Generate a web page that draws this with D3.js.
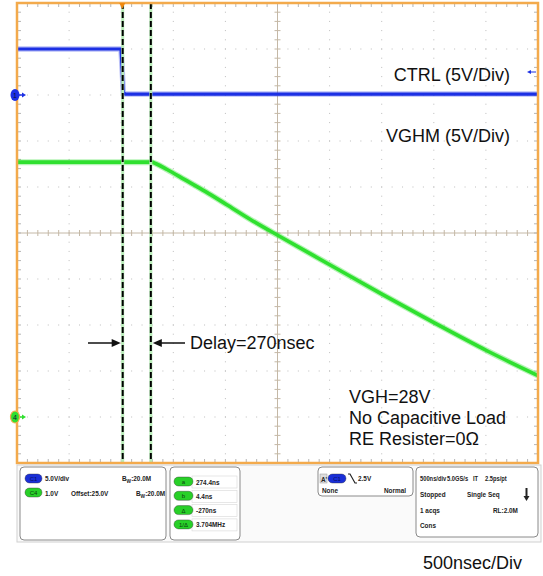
<!DOCTYPE html>
<html><head><meta charset="utf-8">
<script src="https://cdn.jsdelivr.net/npm/d3@7"></script>
<style>
html,body{margin:0;padding:0;background:#fff;}
svg{display:block;}
.lbl{font-family:"Liberation Sans",Arial,sans-serif;font-size:18px;fill:#111;}
.st{font-family:"Liberation Sans",Arial,sans-serif;font-size:8px;font-weight:bold;fill:#222;}
</style></head>
<body>
<svg id="c" width="543" height="576"></svg>
<script>
// ---------- data ----------
// CTRL (channel 1), time in ns relative to trigger, volts
const ctrlTime = [-1010, -12, 0, 10, 30, 3990];
const ctrlVolt = [5.0, 5.0, 2.6, 0.3, 0.1, 0.1];
// VGHM (channel 4)
const vghmTime = [-1010, 280, 330, 430, 600, 800, 1000, 1226, 1500, 2000, 2500, 3000, 3500, 3990];
const vghmVolt = [27.7, 27.7, 27.5, 26.9, 25.8, 24.5, 23.1, 21.5, 19.7, 16.5, 13.3, 10.2, 7.2, 4.5];
// cursors (ns after trigger)
const cursorTimes = [4.4, 274.4];
const triggerTime = 0;
const triggerLevel = 2.5;
// channel settings: volts/div and ground position (div)
const ch1Scale = 5, ch1Pos = 3;
const ch4Scale = 5, ch4Pos = -4;
// annotation texts
const traceLabels = ["CTRL (5V/Div)", "VGHM (5V/Div)"];
const delayLabel = "Delay=270nsec";
const noteLines = ["VGH=28V", "No Capacitive Load", "RE Resister=0\u03A9"];
const timebaseLabel = "500nsec/Div";
const cursorReadouts = ["274.4ns", "4.4ns", "-270ns", "3.704MHz"];
const cursorTags = ["a", "b", "\u0394", "1/\u0394"];

// ---------- scales ----------
const svg = d3.select("#c");
const L = 17, R = 538, T = 3, B = 463;
const x = d3.scaleLinear().domain([-1010, 3990]).range([L, R]);
const y = d3.scaleLinear().domain([-5, 5]).range([B, T]);
const y1 = v => y(v / ch1Scale + ch1Pos);
const y4 = v => y(v / ch4Scale + ch4Pos);
const tMajor = d3.range(0, 11).map(i => -1010 + i * 500);
const tMinor = d3.range(0, 51).map(i => -1010 + i * 100);
const dMajor = d3.range(-5, 6);
const dMinor = d3.range(0, 51).map(i => -5 + i * 0.2);

// ---------- graticule ----------
const g = svg.append("g");
tMajor.slice(1, -1).forEach((t, i) => {
  if (i === 4) return;
  dMinor.forEach(d => g.append("rect").attr("x", x(t) - 0.5).attr("y", y(d) - 0.5).attr("width", 1).attr("height", 1).attr("fill", "#bdbdbd"));
});
dMajor.slice(1, -1).forEach(d => {
  if (d === 0) return;
  tMinor.forEach(t => g.append("rect").attr("x", x(t) - 0.5).attr("y", y(d) - 0.5).attr("width", 1).attr("height", 1).attr("fill", "#bdbdbd"));
});
const cc = "#c4b8a6";
const xc = x(1490);
g.append("line").attr("x1", L).attr("x2", R).attr("y1", y(0)).attr("y2", y(0)).attr("stroke", cc).attr("stroke-width", 1);
g.append("line").attr("x1", xc).attr("x2", xc).attr("y1", T).attr("y2", B).attr("stroke", cc).attr("stroke-width", 1);
tMinor.forEach(t => g.append("line").attr("x1", x(t)).attr("x2", x(t)).attr("y1", y(0) - 3).attr("y2", y(0) + 3).attr("stroke", cc));
dMinor.forEach(d => g.append("line").attr("x1", xc - 3).attr("x2", xc + 3).attr("y1", y(d)).attr("y2", y(d)).attr("stroke", cc));
tMinor.forEach(t => {
  g.append("line").attr("x1", x(t)).attr("x2", x(t)).attr("y1", T).attr("y2", T + 4).attr("stroke", "#b5b5b5");
  g.append("line").attr("x1", x(t)).attr("x2", x(t)).attr("y1", B - 4).attr("y2", B).attr("stroke", "#b5b5b5");
});
dMinor.forEach(d => {
  g.append("line").attr("x1", L).attr("x2", L + 4).attr("y1", y(d)).attr("y2", y(d)).attr("stroke", "#b5b5b5");
  g.append("line").attr("x1", R - 4).attr("x2", R).attr("y1", y(d)).attr("y2", y(d)).attr("stroke", "#b5b5b5");
});

// ---------- traces ----------
const blue = "#1c30e4", green = "#2fe02f";
const ctrl = ctrlTime.map((t, i) => [t, ctrlVolt[i]]);
const vghm = vghmTime.map((t, i) => [t, vghmVolt[i]]);
const line1 = d3.line().x(d => x(d[0])).y(d => y1(d[1]));
const line4 = d3.line().x(d => x(d[0])).y(d => y4(d[1])).curve(d3.curveMonotoneX);
svg.append("path").attr("d", line4(vghm)).attr("fill", "none").attr("stroke", green).attr("stroke-width", 6).attr("stroke-opacity", 0.35);
svg.append("path").attr("d", line4(vghm)).attr("fill", "none").attr("stroke", green).attr("stroke-width", 3.6);
svg.append("path").attr("d", line1(ctrl)).attr("fill", "none").attr("stroke", blue).attr("stroke-width", 5.5).attr("stroke-opacity", 0.3);
svg.append("path").attr("d", line1(ctrl)).attr("fill", "none").attr("stroke", blue).attr("stroke-width", 3.2);

// ---------- cursors ----------
cursorTimes.forEach(t => {
  svg.append("line").attr("x1", x(t)).attr("x2", x(t)).attr("y1", T).attr("y2", B).attr("stroke", "#b8ecb8").attr("stroke-width", 3);
  svg.append("line").attr("x1", x(t)).attr("x2", x(t)).attr("y1", T).attr("y2", B).attr("stroke", "#000").attr("stroke-width", 2).attr("stroke-dasharray", "6,3");
});

// ---------- border ----------
svg.append("rect").attr("x", L).attr("y", T).attr("width", R - L).attr("height", B - T).attr("fill", "none").attr("stroke", "#f3aa4c").attr("stroke-width", 2.5);
const tx = x(triggerTime);
svg.append("path").attr("d", `M${tx - 3},${T} L${tx + 3},${T} L${tx},${T + 6} Z`).attr("fill", "#f08a10");
const ty = y1(triggerLevel);
svg.append("line").attr("x1", R - 9).attr("x2", R - 2).attr("y1", ty).attr("y2", ty).attr("stroke", blue).attr("stroke-width", 1);
svg.append("path").attr("d", `M${R - 11},${ty} L${R - 7},${ty - 2} L${R - 7},${ty + 2} Z`).attr("fill", blue);
function marker(yy, fill, txt, outline) {
  svg.append("line").attr("x1", 18).attr("x2", 24).attr("y1", yy).attr("y2", yy).attr("stroke", fill).attr("stroke-width", 1.5);
  svg.append("path").attr("d", `M26,${yy} L22,${yy - 2.5} L22,${yy + 2.5} Z`).attr("fill", fill);
  svg.append("ellipse").attr("cx", 15).attr("cy", yy).attr("rx", 4.5).attr("ry", 6).attr("fill", fill).attr("stroke", outline).attr("stroke-width", outline === "none" ? 0 : 1.2);
  svg.append("text").attr("x", 15).attr("y", yy + 2.5).attr("text-anchor", "middle").attr("font-size", 7).attr("font-family", "Liberation Sans,Arial").attr("fill", "#113").text(txt);
}
marker(y1(0), blue, "1", "none");
marker(y4(0), green, "4", "#f3aa4c");

// ---------- annotations ----------
svg.append("text").attr("class", "lbl").attr("x", 510).attr("y", 81).attr("text-anchor", "end").text(traceLabels[0]);
svg.append("text").attr("class", "lbl").attr("x", 510).attr("y", 142).attr("text-anchor", "end").text(traceLabels[1]);
const ay = 343;
const c1 = x(cursorTimes[0]), c2 = x(cursorTimes[1]);
svg.append("line").attr("x1", 88).attr("x2", c1 - 8).attr("y1", ay).attr("y2", ay).attr("stroke", "#111").attr("stroke-width", 1.5);
svg.append("path").attr("d", `M${c1 - 2},${ay} L${c1 - 11},${ay - 4} L${c1 - 11},${ay + 4} Z`).attr("fill", "#111");
svg.append("line").attr("x1", c2 + 8).attr("x2", 185).attr("y1", ay).attr("y2", ay).attr("stroke", "#111").attr("stroke-width", 1.5);
svg.append("path").attr("d", `M${c2 + 2},${ay} L${c2 + 11},${ay - 4} L${c2 + 11},${ay + 4} Z`).attr("fill", "#111");
svg.append("text").attr("class", "lbl").attr("x", 190).attr("y", 349).text(delayLabel);
noteLines.forEach((s, i) => svg.append("text").attr("class", "lbl").attr("x", 349).attr("y", 403 + i * 21).text(s));
svg.append("text").attr("class", "lbl").attr("x", 423).attr("y", 569).text(timebaseLabel);

// ---------- status bar ----------
const sb = svg.append("g");
sb.append("rect").attr("x", 17).attr("y", 465).attr("width", 524).attr("height", 77).attr("fill", "#fafafa").attr("stroke", "#d0d0d0");
const boxes = [[20, 467, 146, 73], [170, 467, 70, 73], [318, 467, 95, 29], [416, 467, 122, 70]];
boxes.forEach(b => sb.append("rect").attr("x", b[0]).attr("y", b[1]).attr("width", b[2]).attr("height", b[3]).attr("rx", 4).attr("fill", "#fff").attr("stroke", "#8a8a8a").attr("stroke-width", 1));
function pill(px, py, w, fill, txt, tcol) {
  sb.append("rect").attr("x", px).attr("y", py).attr("width", w).attr("height", 9).attr("rx", 4.5).attr("fill", fill).attr("stroke", "#333").attr("stroke-width", 0.4);
  sb.append("text").attr("x", px + w / 2).attr("y", py + 7).attr("text-anchor", "middle").attr("font-size", 6).attr("font-family", "Liberation Sans,Arial").attr("fill", tcol).text(txt);
}
function st(tx_, ty_, s, sx) {
  return sb.append("text").attr("class", "st").attr("transform", `translate(${tx_},${ty_}) scale(${sx || 0.8},1)`).attr("x", 0).attr("y", 0).text(s);
}
function bw(tx_, ty_) {
  const t = st(tx_, ty_, "B");
  t.append("tspan").attr("font-size", 6).attr("dy", 2).text("W");
  t.append("tspan").attr("dy", -2).text(":20.0M");
}
// box 1
pill(25, 474, 17, "#1a2fd8", "C1", "#0b1060");
st(45, 481, "5.0V/div");
bw(122, 481);
pill(25, 488, 17, "#28d028", "C4", "#0b4010");
st(45, 496, "1.0V");
st(71, 496, "Offset:25.0V");
bw(136, 496);
// box 2
cursorReadouts.forEach((s, i) => {
  const yy = 477 + i * 14.3;
  sb.append("rect").attr("x", 192).attr("y", yy - 1).attr("width", 45).attr("height", 12).attr("fill", "none").attr("stroke", "#d8d8d8").attr("stroke-width", 0.6);
  pill(174, yy, 19, "#28d028", cursorTags[i], "#0b4010");
  st(196, yy + 7.5, s);
});
// box 3
sb.append("rect").attr("x", 320).attr("y", 474).attr("width", 7).attr("height", 9).attr("fill", "#ddd").attr("stroke", "#999").attr("stroke-width", 0.5);
st(321, 481.5, "A'").attr("font-size", 6.5);
pill(328, 474, 18, "#1a2fd8", "C1", "#0b1060");
sb.append("path").attr("d", "M348,474 L350,474 L355,483 L357,483").attr("fill", "none").attr("stroke", "#222").attr("stroke-width", 1.2);
st(358, 481, "2.5V");
st(322, 493, "None");
st(384, 493, "Normal");
// box 4
st(420, 481, "500ns/div", 0.72).attr("font-size", 7);
st(447, 481, "5.0GS/s", 0.72).attr("font-size", 7);
st(473, 481, "IT", 0.72).attr("font-size", 7);
st(485, 481, "2.5ps/pt", 0.72).attr("font-size", 7);
st(420, 497, "Stopped");
st(467, 497, "Single Seq");
sb.append("line").attr("x1", 526.5).attr("x2", 526.5).attr("y1", 488).attr("y2", 497).attr("stroke", "#222").attr("stroke-width", 2);
sb.append("path").attr("d", "M523.5,496 L529.5,496 L526.5,501 Z").attr("fill", "#222");
st(420, 513, "1 acqs");
st(493, 513, "RL:2.0M");
st(420, 528, "Cons");
</script>
</body></html>
